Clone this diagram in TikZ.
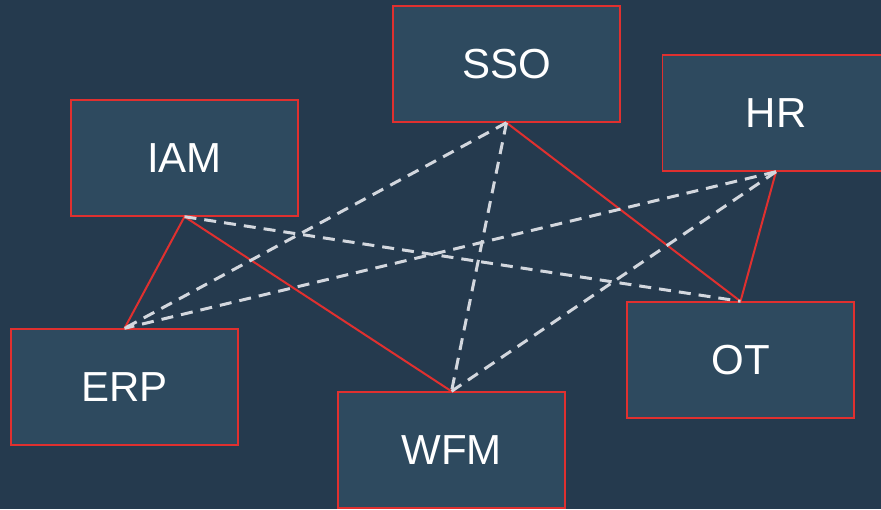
\documentclass[tikz,border=0pt]{standalone}
\usepackage{fontspec}
\setmainfont{Liberation Sans}
\usetikzlibrary{positioning}
\definecolor{bgnavy}{HTML}{253A4E}
\definecolor{boxfill}{HTML}{2E4A5F}
\definecolor{boxred}{HTML}{E0302F}
\definecolor{dashgray}{HTML}{D3D7DE}

\begin{document}
\begin{tikzpicture}[x=1pt, y=-1pt,
  sysbox/.style={rectangle, draw=boxred, fill=boxfill, line width=1.4pt, minimum width=227pt, minimum height=116pt, inner sep=0pt, text=white, font=\fontsize{42}{48}\selectfont},
  link/.style={draw=boxred, line width=2pt},
  dlink/.style={draw=dashgray, line width=3pt, dash pattern=on 12pt off 8pt}
]

% Background
\fill[bgnavy] (0,0) rectangle (881,509);
\useasboundingbox (0,0) rectangle (881,509);

% Systems
\node[sysbox] (sso) at (506.5,64) {SSO};
\node[sysbox] (hr) at (776,113) {HR};
\node[sysbox] (iam) at (184.5,158) {IAM};
\node[sysbox] (erp) at (124.5,387) {ERP};
\node[sysbox] (wfm) at (451.5,450) {WFM};
\node[sysbox] (ot) at (740.5,360) {OT};

% Direct links
\draw[link] (iam.south) -- (erp.north);
\draw[link] (iam.south) -- (wfm.north);
\draw[link] (sso.south) -- (ot.north);
\draw[link] (hr.south) -- (ot.north);

% Indirect links
\draw[dlink] (iam.south) -- (ot.north);
\draw[dlink] (sso.south) -- (erp.north);
\draw[dlink] (sso.south) -- (wfm.north);
\draw[dlink] (hr.south) -- (erp.north);
\draw[dlink] (hr.south) -- (wfm.north);

\end{tikzpicture}
\end{document}
